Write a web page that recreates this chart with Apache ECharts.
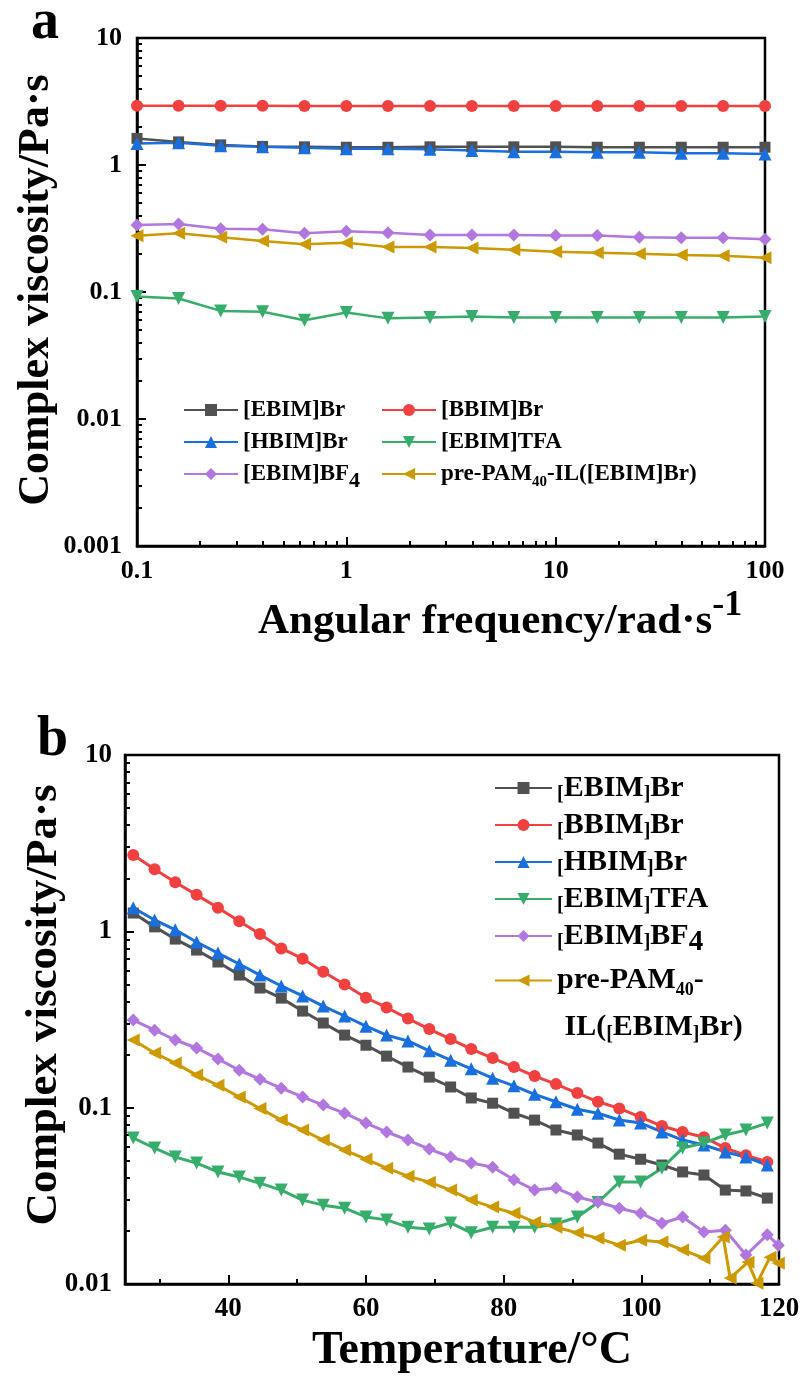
<!DOCTYPE html>
<html>
<head>
<meta charset="utf-8">
<script src="https://cdn.jsdelivr.net/npm/echarts@6/dist/echarts.min.js"></script>
<style>
  html, body { margin: 0; padding: 0; background: #fff; }
  #chart { width: 805px; height: 1382px; }
</style>
</head>
<body>
<div id="chart"></div>
<script>
// ---------- Panel a: complex viscosity vs angular frequency ----------
const freqA = [0.1, 0.158, 0.251, 0.398, 0.631, 1, 1.58, 2.51, 3.98, 6.31, 10, 15.8, 25.1, 39.8, 63.1, 100];
const ebimBrA  = [1.62, 1.52, 1.44, 1.40, 1.39, 1.38, 1.38, 1.39, 1.39, 1.39, 1.39, 1.38, 1.38, 1.38, 1.38, 1.38];
const bbimBrA  = [2.93, 2.93, 2.93, 2.93, 2.92, 2.92, 2.92, 2.92, 2.92, 2.92, 2.92, 2.92, 2.92, 2.92, 2.92, 2.92];
const hbimBrA  = [1.48, 1.50, 1.42, 1.39, 1.37, 1.34, 1.34, 1.33, 1.30, 1.27, 1.27, 1.26, 1.26, 1.24, 1.24, 1.22];
const ebimTfaA = [0.092, 0.089, 0.071, 0.070, 0.060, 0.069, 0.062, 0.063, 0.064, 0.063, 0.063, 0.063, 0.063, 0.063, 0.063, 0.064];
const ebimBf4A = [0.337, 0.343, 0.315, 0.312, 0.290, 0.301, 0.293, 0.281, 0.281, 0.281, 0.279, 0.279, 0.270, 0.267, 0.267, 0.260];
const prePamA  = [0.277, 0.290, 0.270, 0.252, 0.238, 0.244, 0.226, 0.226, 0.222, 0.215, 0.207, 0.204, 0.200, 0.196, 0.193, 0.186];

// ---------- Panel b: complex viscosity vs temperature ----------
const tempB = [26.2, 29.3, 32.3, 35.4, 38.5, 41.6, 44.6, 47.7, 50.8, 53.8, 56.9, 60.0, 63.0, 66.1, 69.2, 72.3,
               75.3, 78.4, 81.5, 84.5, 87.6, 90.7, 93.7, 96.8, 99.9, 103.0, 106.0, 109.1, 112.2, 115.2, 118.3];
const ebimBrB  = [1.27, 1.06, 0.904, 0.783, 0.67, 0.565, 0.477, 0.418, 0.353, 0.302, 0.258, 0.226, 0.196, 0.17, 0.149, 0.131,
                  0.1135, 0.106, 0.093, 0.085, 0.0747, 0.070, 0.063, 0.0545, 0.051, 0.0473, 0.0432, 0.0415, 0.0341, 0.0337, 0.0307];
const bbimBrB  = [2.71, 2.25, 1.90, 1.61, 1.36, 1.14, 0.966, 0.80, 0.70, 0.59, 0.50, 0.42, 0.37, 0.32, 0.279, 0.245,
                  0.215, 0.191, 0.17, 0.151, 0.136, 0.121, 0.108, 0.099, 0.0885, 0.0787, 0.0728, 0.068, 0.059, 0.0538, 0.0492];
const hbimBrB  = [1.36, 1.16, 1.02, 0.87, 0.753, 0.653, 0.565, 0.49, 0.43, 0.377, 0.331, 0.29, 0.258, 0.239, 0.21, 0.186,
                  0.166, 0.147, 0.133, 0.119, 0.108, 0.098, 0.093, 0.0851, 0.0818, 0.0728, 0.0655, 0.0614, 0.0561, 0.0525, 0.0473];
const ebimTfaB = [0.0673, 0.059, 0.0525, 0.0485, 0.0432, 0.0404, 0.0373, 0.0341, 0.0299, 0.028, 0.0269, 0.024, 0.0231, 0.021, 0.0205, 0.0222,
                  0.0195, 0.021, 0.021, 0.021, 0.0219, 0.024, 0.029, 0.0379, 0.0379, 0.0454, 0.059, 0.063, 0.070, 0.0746, 0.0818];
const bf4TempB = [26.2, 29.3, 32.3, 35.4, 38.5, 41.6, 44.6, 47.7, 50.8, 53.8, 56.9, 60.0, 63.0, 66.1, 69.2, 72.3,
                  75.3, 78.4, 81.5, 84.5, 87.6, 90.7, 93.7, 96.8, 99.9, 103.0, 106.0, 109.1, 112.2, 115.2, 118.3, 119.9];
const ebimBf4B = [0.314, 0.275, 0.242, 0.218, 0.189, 0.163, 0.145, 0.129, 0.115, 0.1035, 0.093, 0.0818, 0.0728, 0.0655, 0.0582, 0.0525,
                  0.0485, 0.046, 0.039, 0.0341, 0.035, 0.0311, 0.0292, 0.0269, 0.0252, 0.0221, 0.024, 0.0197, 0.0202, 0.0146, 0.019, 0.0166];
const pamTempB = [26.2, 29.3, 32.3, 35.4, 38.5, 41.6, 44.6, 47.7, 50.8, 53.8, 56.9, 60.0, 63.0, 66.1, 69.2, 72.3,
                  75.3, 78.4, 81.5, 84.5, 87.6, 90.7, 93.7, 96.8, 99.9, 103.0, 106.0, 109.1, 111.9, 112.9, 115.5, 116.8, 118.7, 119.9];
const prePamB  = [0.242, 0.204, 0.179, 0.153, 0.134, 0.115, 0.099, 0.085, 0.0746, 0.0655, 0.0575, 0.051, 0.0454, 0.0409, 0.0378, 0.0341,
                  0.0299, 0.0273, 0.0252, 0.0224, 0.021, 0.0195, 0.0182, 0.0166, 0.0177, 0.0173, 0.0156, 0.014, 0.0185, 0.0108, 0.0133, 0.0101, 0.0142, 0.0131];

// ---------- Axis ticks ----------
const xTicksA = [0.1, 1, 10, 100];
const yTicksA = [0.001, 0.01, 0.1, 1, 10];
const xTicksB = [40, 60, 80, 100, 120];
const xMinorB = [30, 50, 70, 90, 110];
const yTicksB = [0.01, 0.1, 1, 10];

// minor log ticks 2..9 inside each decade
function minorLogTicks(decadeStarts) {
  const out = [];
  decadeStarts.forEach(d => { for (let k = 2; k <= 9; k++) out.push(+(d * k).toPrecision(6)); });
  return out;
}
const xMinorA = minorLogTicks([0.1, 1, 10]);
const yMinorA = minorLogTicks([0.001, 0.01, 0.1, 1]);
const yMinorB = minorLogTicks([0.01, 0.1, 1]);

const FONT = "'Liberation Serif','Times New Roman',serif";
const NAMES = ['[EBIM]Br', '[BBIM]Br', '[HBIM]Br', '[EBIM]TFA', '[EBIM]BF4', 'pre-PAM40-IL([EBIM]Br)'];
const STYLES = {
  '[EBIM]Br':  { color: '#515151', symbol: 'rect', size: 11 },
  '[BBIM]Br':  { color: '#F14040', symbol: 'circle', size: 12 },
  '[HBIM]Br':  { color: '#1A6FDF', symbol: 'triangle', size: 13 },
  '[EBIM]TFA': { color: '#37AD6B', symbol: 'path://M0,0L10,0L5,9Z', size: 13 },
  '[EBIM]BF4': { color: '#B177DE', symbol: 'diamond', size: 13 },
  'pre-PAM40-IL([EBIM]Br)': { color: '#CC9900', symbol: 'path://M0,5L9,0L9,10Z', size: 13 }
};

function lineSeries(name, xs, ys, panel) {
  const st = STYLES[name];
  return {
    name: name, type: 'line',
    xAxisIndex: panel * 2, yAxisIndex: panel * 2,
    data: xs.map((x, i) => [x, ys[i]]),
    symbol: st.symbol, symbolSize: st.size,
    lineStyle: { color: st.color, width: panel === 0 ? 2.5 : 3 },
    itemStyle: { color: st.color },
    emphasis: { disabled: true },
    animation: false
  };
}

const series = [
  lineSeries(NAMES[0], freqA, ebimBrA, 0),
  lineSeries(NAMES[1], freqA, bbimBrA, 0),
  lineSeries(NAMES[2], freqA, hbimBrA, 0),
  lineSeries(NAMES[3], freqA, ebimTfaA, 0),
  lineSeries(NAMES[4], freqA, ebimBf4A, 0),
  lineSeries(NAMES[5], freqA, prePamA, 0),
  lineSeries(NAMES[0], tempB, ebimBrB, 1),
  lineSeries(NAMES[1], tempB, bbimBrB, 1),
  lineSeries(NAMES[2], tempB, hbimBrB, 1),
  lineSeries(NAMES[3], tempB, ebimTfaB, 1),
  lineSeries(NAMES[4], bf4TempB, ebimBf4B, 1),
  lineSeries(NAMES[5], pamTempB, prePamB, 1)
];

// ---------- Axes ----------
const tickLine = { color: '#000', width: 2 };
const labelStyle = (size, margin) => ({ color: '#000', fontFamily: FONT, fontWeight: 'bold', fontSize: size, margin, formatter: v => String(v) });

function mainAxis(gridIndex, type, min, max, ticks, pos, labelSize, margin) {
  return {
    gridIndex, type, logBase: 10, min, max, position: pos,
    axisLine: { show: true, onZero: false, lineStyle: { color: '#000', width: 2.5 } },
    axisTick: { show: true, inside: true, length: 9, lineStyle: tickLine, customValues: ticks },
    axisLabel: Object.assign(labelStyle(labelSize, margin), { customValues: ticks }),
    splitLine: { show: false }, minorTick: { show: false }
  };
}
function minorAxis(gridIndex, type, min, max, ticks, pos) {
  return {
    gridIndex, type, logBase: 10, min, max, position: pos,
    axisLine: { show: false, onZero: false },
    axisTick: { show: true, inside: true, length: 5, lineStyle: tickLine, customValues: ticks },
    axisLabel: { show: false },
    splitLine: { show: false }
  };
}

// Rich-text pieces for sub/superscripts: a short inner box plus top padding
// pushes the fragment down, bottom padding lifts it, without growing the line.
function frag(size, shift) {
  const pad = shift >= 0 ? [2 * shift, 0, 0, 0] : [0, 0, -2 * shift, 0];
  return { fontFamily: FONT, fontWeight: 'bold', fontSize: size, height: 10, padding: pad, verticalAlign: 'middle', color: '#000' };
}
const richA = { s: frag(22, 7), s2: frag(15, 8) };
const labelsA = {
  '[EBIM]Br': '[EBIM]Br', '[BBIM]Br': '[BBIM]Br', '[HBIM]Br': '[HBIM]Br', '[EBIM]TFA': '[EBIM]TFA',
  '[EBIM]BF4': '[EBIM]BF{s|4}', 'pre-PAM40-IL([EBIM]Br)': 'pre-PAM{s2|40}-IL([EBIM]Br)'
};
const richB = { k: frag(20, 7), s: frag(29, 7) };
const labelsB = {
  '[EBIM]Br': '{k|[}EBIM{k|]}Br', '[BBIM]Br': '{k|[}BBIM{k|]}Br', '[HBIM]Br': '{k|[}HBIM{k|]}Br',
  '[EBIM]TFA': '{k|[}EBIM{k|]}TFA', '[EBIM]BF4': '{k|[}EBIM{k|]}BF{s|4}'
};
const richB2 = { k: frag(20, 7), s2: frag(18, 10) };

function legend(names, left, top, fontSize, lineHeight, gap, itemWidth, formatter, rich) {
  return {
    data: names, orient: 'vertical', left, top, padding: 0,
    itemWidth, itemHeight: 15, itemGap: gap, selectedMode: false,
    formatter,
    textStyle: { color: '#000', fontFamily: FONT, fontWeight: 'bold', fontSize, lineHeight, rich }
  };
}

const titleFont = { fill: '#000', fontFamily: FONT, fontWeight: 'bold' };

const option = {
  animation: false,
  backgroundColor: '#fff',
  grid: [
    { left: 137, top: 38, width: 628, height: 508, show: true, borderColor: '#000', borderWidth: 2.5, backgroundColor: 'transparent' },
    { left: 125, top: 755, width: 654, height: 529, show: true, borderColor: '#000', borderWidth: 2.5, backgroundColor: 'transparent' }
  ],
  xAxis: [
    mainAxis(0, 'log', 0.1, 100, xTicksA, 'bottom', 26, 12),
    minorAxis(0, 'log', 0.1, 100, xMinorA, 'bottom'),
    mainAxis(1, 'value', 25, 120, xTicksB, 'bottom', 27, 12),
    minorAxis(1, 'value', 25, 120, xMinorB, 'bottom')
  ],
  yAxis: [
    mainAxis(0, 'log', 0.001, 10, yTicksA, 'left', 26, 15),
    minorAxis(0, 'log', 0.001, 10, yMinorA, 'left'),
    mainAxis(1, 'log', 0.01, 10, yTicksB, 'left', 27, 13),
    minorAxis(1, 'log', 0.01, 10, yMinorB, 'left')
  ],
  legend: [
    legend([NAMES[0], NAMES[2], NAMES[4]], 183, 397, 23, 26, 6, 54, n => labelsA[n], richA),
    legend([NAMES[1], NAMES[3], NAMES[5]], 381, 397, 23, 26, 6, 54, n => labelsA[n], richA),
    legend([NAMES[0], NAMES[1], NAMES[2], NAMES[3], NAMES[4]], 494, 773, 30, 30, 5, 57, n => labelsB[n], richB),
    legend([NAMES[5]], 494, 910, 30, 47, 7, 57, () => ' \npre-PAM{s2|40}-\n IL({k|[}EBIM{k|]}Br)', richB2)
  ],
  graphic: [
    { type: 'text', x: 31, y: 24, style: Object.assign({ text: 'a', fontSize: 56, align: 'left', verticalAlign: 'middle', textAlign: 'left', textVerticalAlign: 'middle' }, titleFont) },
    { type: 'text', x: 37, y: 741, style: Object.assign({ text: 'b', fontSize: 56, align: 'left', verticalAlign: 'middle', textAlign: 'left', textVerticalAlign: 'middle' }, titleFont) },
    { type: 'text', x: 37, y: 290, rotation: Math.PI / 2,
      style: Object.assign({ text: 'Complex viscosity/Pa\u00B7s', fontSize: 44, align: 'center', verticalAlign: 'middle', textAlign: 'center', textVerticalAlign: 'middle' }, titleFont) },
    { type: 'text', x: 44, y: 1005, rotation: Math.PI / 2,
      style: Object.assign({ text: 'Complex viscosity/Pa\u00B7s', fontSize: 45, align: 'center', verticalAlign: 'middle', textAlign: 'center', textVerticalAlign: 'middle' }, titleFont) },
    { type: 'text', x: 258, y: 622,
      style: Object.assign({ text: 'Angular frequency/rad\u00B7s{sup|-1}', fontSize: 43, lineHeight: 44, align: 'left', verticalAlign: 'middle', textAlign: 'left', textVerticalAlign: 'middle',
        rich: { sup: { fontFamily: FONT, fontWeight: 'bold', fontSize: 36, lineHeight: 44, padding: [0, 0, 32, 0], verticalAlign: 'middle', fill: '#000', color: '#000' } } }, titleFont) },
    { type: 'text', x: 472, y: 1351,
      style: Object.assign({ text: 'Temperature/\u00B0C', fontSize: 46, align: 'center', verticalAlign: 'middle', textAlign: 'center', textVerticalAlign: 'middle' }, titleFont) }
  ],
  series: series
};

const chart = echarts.init(document.getElementById('chart'), null, { renderer: 'canvas' });
chart.setOption(option);
</script>
</body>
</html>
